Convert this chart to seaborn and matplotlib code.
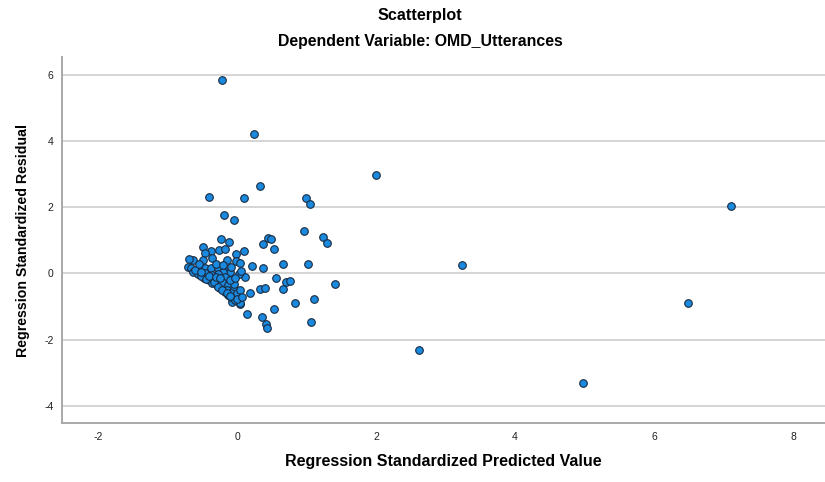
import numpy as np
import pandas as pd
import seaborn as sns
import matplotlib.pyplot as plt

# values
pred = [
    -0.22, 0.25, -0.40, 0.33, 0.10, 0.99, 1.05, -0.19, -0.04, 0.96, 1.24, 1.30,
    0.45, 0.49, 0.37, 0.53, -0.23, -0.11, -0.49, -0.37, -0.26, -0.17, -0.46, -0.36,
    -0.01, 0.10, -0.63, -0.69, -0.49, -0.14, -0.01, 0.04, 0.22, 0.37, 0.66, 1.02,
    0.56, 0.70, 0.76, 1.41, 0.12, 0.03, -0.06, 0.33, 0.40, 0.66, 0.19, 0.83,
    1.11, 0.04, 0.53, 0.14, 0.36, 0.42, 0.43, 1.06, -0.07, -0.07,
    2.00, 3.24, 2.62, 4.98, 6.49, 7.11,
    -0.70, -0.66, -0.54, -0.46, -0.37, -0.27, -0.17, -0.10, -0.20,
    -0.63, -0.56, -0.48, -0.41, -0.36, -0.29, -0.24, -0.18, -0.13, -0.08, -0.03, 0.04,
    -0.46, -0.36, -0.27, -0.17, -0.32, -0.22, -0.13, -0.05, -0.15, -0.08, 0.00, 0.04,
    -0.05, 0.00, 0.07,
    -0.60, -0.52, -0.44, -0.33, -0.27, -0.21, -0.15, -0.10, -0.52, -0.40, -0.30,
    -0.24, -0.10, -0.03, 0.06, -0.08, -0.55, -0.30, -0.20,
]
resid = [
    5.83, 4.22, 2.31, 2.64, 2.28, 2.28, 2.10, 1.77, 1.62, 1.28, 1.10, 0.92,
    1.07, 1.04, 0.89, 0.74, 1.03, 0.95, 0.80, 0.68, 0.71, 0.74, 0.62, 0.47,
    0.59, 0.68, 0.41, 0.43, 0.41, 0.41, 0.38, 0.32, 0.23, 0.17, 0.29, 0.29,
    -0.14, -0.26, -0.23, -0.32, -0.11, -0.02, -0.35, -0.47, -0.44, -0.47, -0.59, -0.89,
    -0.77, -0.92, -1.07, -1.22, -1.31, -1.52, -1.65, -1.47, -0.74, -0.86,
    2.98, 0.26, -2.31, -3.30, -0.89, 2.04,
    0.20, 0.17, 0.17, 0.17, 0.17, 0.17, 0.11, 0.04, 0.05,
    0.05, -0.02, -0.13, -0.20, -0.30, -0.35, -0.45, -0.55, -0.65, -0.70, -0.80, -0.90,
    0.00, -0.05, -0.02, -0.10, -0.20, -0.25, -0.35, -0.45, -0.50, -0.60, -0.60, -0.50,
    -0.33, -0.77, -0.70,
    0.10, -0.08, -0.16, -0.25, -0.40, -0.50, -0.60, -0.68, 0.05, -0.08, -0.12,
    -0.15, -0.20, -0.15, 0.07, 0.20, 0.30, 0.30, 0.25,
]
x_ticks = [-2, 0, 2, 4, 6, 8]
y_ticks = [-4, -2, 0, 2, 4, 6]

df = pd.DataFrame({"pred": pred, "resid": resid})

sns.set_style("whitegrid")
plt.rcParams['font.family'] = ['Liberation Sans', 'DejaVu Sans']
plt.rcParams['axes.unicode_minus'] = False
plt.rcParams['text.color'] = 'black'
plt.rcParams['axes.labelcolor'] = 'black'

fig = plt.figure(figsize=(8.25, 4.82), dpi=100)
ax = fig.add_axes([0.075, 0.122, 0.925, 0.760])

sns.scatterplot(data=df, x="pred", y="resid", ax=ax, s=30,
                color="#1a8ae0", edgecolor="#1a2a40", linewidth=0.8, zorder=3)

ax.set_xlim(-2.52, 8.46)
ax.set_ylim(-4.52, 6.54)
ax.set_xticks(x_ticks)
ax.set_yticks(y_ticks)
ax.tick_params(axis='both', labelsize=7.5, length=0, pad=6, colors='#222222')
ax.grid(axis='x', visible=False)
ax.grid(axis='y', color='#d4d4d4', linewidth=1.4)
for side in ['top', 'right']:
    ax.spines[side].set_visible(False)
for side in ['left', 'bottom']:
    ax.spines[side].set_color('#a8a8a8')
    ax.spines[side].set_linewidth(1.4)

ax.set_xlabel("Regression Standardized Predicted Value", fontsize=11.5,
              fontweight='bold', labelpad=9)
ax.set_ylabel("Regression Standardized Residual", fontsize=10.2,
              fontweight='bold', labelpad=10)

fig.text(0.509, 0.967, "Scatterplot", ha='center', va='center',
         fontsize=11.6, fontweight='bold')
fig.text(0.509, 0.913, "Dependent Variable: OMD_Utterances", ha='center',
         va='center', fontsize=11.4, fontweight='bold')

plt.savefig('out.png', dpi=100)
